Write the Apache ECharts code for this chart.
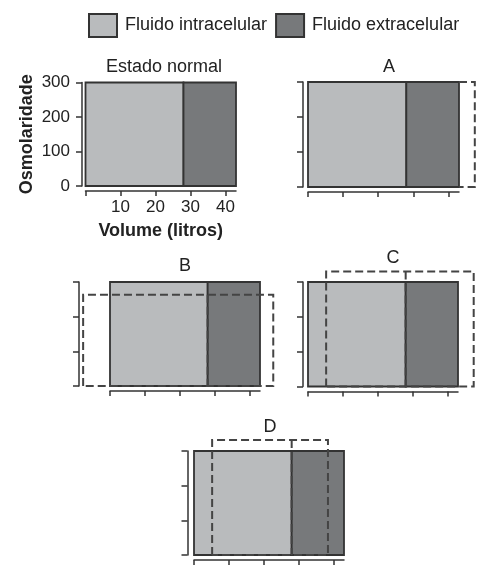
<!DOCTYPE html>
<html>
<head>
<meta charset="utf-8">
<script src="https://cdn.jsdelivr.net/npm/echarts@6/dist/echarts.min.js"></script>
<style>html,body{margin:0;padding:0;background:#fff}#c{width:496px;height:576px}</style>
</head>
<body>
<div id="c"></div>
<script>
// ---- data ----
const panelTitles = ['Estado normal', 'A', 'B', 'C', 'D'];
const icfVolume = [28, 28, 28, 28, 28];      // litres, ICF from 0 to this value
const totalVolume = [43, 43, 43, 43, 43];    // litres, ECF from ICF to this value
const osmolarity = [300, 300, 300, 300, 300];
// new states (dashed)
const newLeft = [null, null, -7.7, 5.2, 5.2];
const newDivider = [null, null, 28, 28, 28];
const newRight = [null, 47.5, 46.8, 47.5, 38.4];
const newOsm = [null, 300, 263, 330, 332];
const yTicks = [0, 100, 200, 300];
const xTicks = [0, 10, 20, 30, 40];
const xLabels = [10, 20, 30, 40];

// ---- layout ----
const grids = [
  {left: 85.5, top: 82.5, width: 150.5, height: 103.5},
  {left: 308, top: 82, width: 151, height: 105},
  {left: 110, top: 282, width: 150, height: 104},
  {left: 308, top: 282, width: 150, height: 104.5},
  {left: 194, top: 451, width: 150, height: 104}
];
const yOffsets = [3.5, 5, 31, 5, 6.5];
const titlePos = [[164, 67], [389, 67], [185, 266], [393, 258], [270, 427]];

const FONT = 'Liberation Sans';
const ICF = '#b9bbbd', ECF = '#77797b', EDGE = '#333333', DASH = '#444444';

const grid = [], xAxis = [], yAxis = [], series = [], graphic = [];
panelTitles.forEach((t, i) => {
  const isMain = i === 0;
  grid.push(Object.assign({containLabel: false}, grids[i]));
  xAxis.push({
    type: 'value', gridIndex: i, min: 0, max: totalVolume[i],
    offset: 5,
    axisLine: {onZero: false, lineStyle: {color: EDGE, width: 1.5}},
    axisTick: {show: true, length: 5, customValues: xTicks, lineStyle: {color: EDGE, width: 1.5}},
    axisLabel: {show: isMain, customValues: xLabels, color: '#222', fontSize: 17, fontFamily: FONT, margin: 8},
    splitLine: {show: false},
    name: isMain ? 'Volume (litros)' : '', nameLocation: 'middle', nameGap: 31,
    nameTextStyle: {fontSize: 18, fontWeight: 'bold', color: '#222', fontFamily: FONT}
  });
  yAxis.push({
    type: 'value', gridIndex: i, min: 0, max: 300, interval: 100,
    offset: yOffsets[i],
    axisLine: {show: true, onZero: false, lineStyle: {color: EDGE, width: 1.5}},
    axisTick: {show: true, length: 6, customValues: yTicks, lineStyle: {color: EDGE, width: 1.5}},
    axisLabel: {show: isMain, customValues: yTicks, color: '#222', fontSize: 17, fontFamily: FONT, margin: 12},
    splitLine: {show: false},
    name: isMain ? 'Osmolaridade' : '', nameLocation: 'middle', nameGap: 46,
    nameTextStyle: {fontSize: 18, fontWeight: 'bold', color: '#222', fontFamily: FONT}
  });
  const boxItem = (color) => ({
    type: 'custom', xAxisIndex: i, yAxisIndex: i, z: 2,
    itemStyle: {color: color, borderColor: EDGE, borderWidth: 1.5},
    renderItem: (params, api) => {
      const p0 = api.coord([api.value(0), api.value(2)]);
      const p1 = api.coord([api.value(1), 0]);
      return {type: 'rect', shape: {x: p0[0], y: p0[1], width: p1[0] - p0[0], height: p1[1] - p0[1]},
        style: {fill: color, stroke: EDGE, lineWidth: 1.8}};
    }
  });
  series.push(Object.assign(boxItem(ICF), {name: 'Fluido intracelular', data: [[0, icfVolume[i], osmolarity[i]]]}));
  series.push(Object.assign(boxItem(ECF), {name: 'Fluido extracelular', data: [[icfVolume[i], totalVolume[i], osmolarity[i]]]}));

  if (newRight[i] !== null) {
    const lines = [];
    if (newDivider[i] === null) {
      // only ECF expands (same osmolarity)
      lines.push([[totalVolume[i], newOsm[i]], [newRight[i], newOsm[i]], [newRight[i], 0], [totalVolume[i], 0]]);
    } else {
      lines.push([[newLeft[i], 0], [newLeft[i], newOsm[i]], [newRight[i], newOsm[i]], [newRight[i], 0], [newLeft[i], 0]]);
      lines.push([[newDivider[i], newOsm[i]], [newDivider[i], 0]]);
    }
    series.push({
      type: 'custom', xAxisIndex: i, yAxisIndex: i, z: 5, clip: false, silent: true,
      data: lines.map((pts, k) => [k]),
      renderItem: (params, api) => {
        const pts = lines[api.value(0)].map(p => api.coord(p));
        return {type: 'polyline', shape: {points: pts},
          style: {fill: null, stroke: DASH, lineWidth: 2, lineDash: [8, 4]}};
      }
    });
  }
  graphic.push({type: 'text', x: titlePos[i][0], y: titlePos[i][1],
    style: {text: t, fill: '#222', font: '18px "' + FONT + '"', textAlign: 'center', textVerticalAlign: 'middle'}});
});

const chart = echarts.init(document.getElementById('c'), null, {renderer: 'canvas'});
chart.setOption({
  animation: false,
  textStyle: {fontFamily: FONT},
  legend: {
    left: 83, top: 8, itemWidth: 28, itemHeight: 23, itemGap: 8,
    textStyle: {fontSize: 18, color: '#222', fontFamily: FONT, padding: [0, 0, 0, 3]},
    data: [
      {name: 'Fluido intracelular', icon: 'rect', itemStyle: {color: ICF, borderColor: EDGE, borderWidth: 2}},
      {name: 'Fluido extracelular', icon: 'rect', itemStyle: {color: ECF, borderColor: EDGE, borderWidth: 2}}
    ],
    selectedMode: false
  },
  grid, xAxis, yAxis, series, graphic
});
</script>
</body>
</html>
